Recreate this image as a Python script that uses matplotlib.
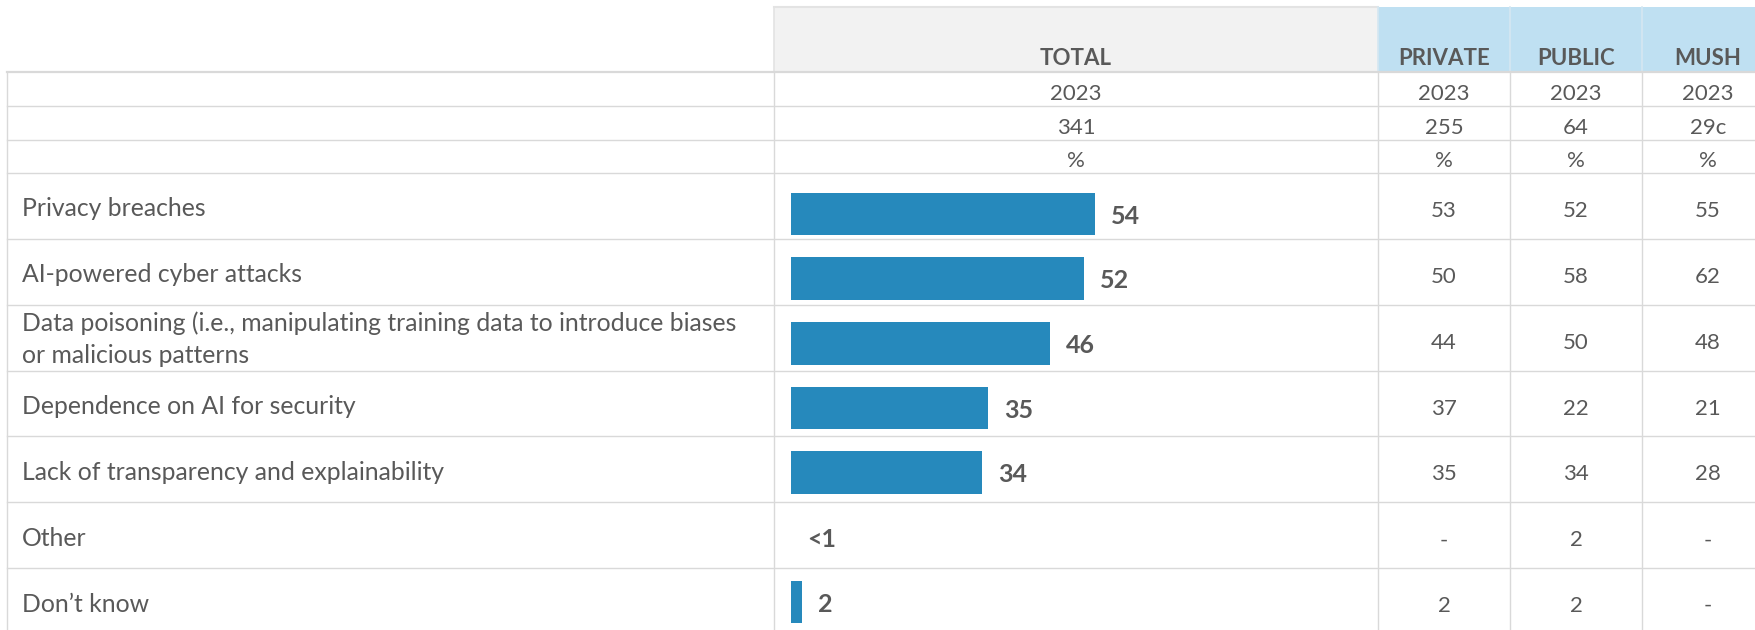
import matplotlib
matplotlib.use("Agg")
import matplotlib.pyplot as plt
from matplotlib.patches import Rectangle

# ---- data -------------------------------------------------------------
categories = [
    "Privacy breaches",
    "AI-powered cyber attacks",
    "Data poisoning (i.e., manipulating training data to introduce biases\nor malicious patterns",
    "Dependence on AI for security",
    "Lack of transparency and explainability",
    "Other",
    "Don\u2019t know",
]
total_values = [54, 52, 46, 35, 34, 0, 2]
total_labels = ["54", "52", "46", "35", "34", "<1", "2"]

segments = ["TOTAL", "PRIVATE", "PUBLIC", "MUSH"]
years = ["2023", "2023", "2023", "2023"]
bases = ["341", "255", "64", "29c"]
units = ["%", "%", "%", "%"]

private_values = [53, 50, 44, 37, 35, None, 2]
public_values = [52, 58, 50, 22, 34, 2, 2]
mush_values = [55, 62, 48, 21, 28, None, None]

# ---- style ------------------------------------------------------------
FONT = "Lato"
TEXT = "#595959"
GRID = "#D9D9D9"
BAR = "#2689BC"
HEAD_GREY = "#F2F2F2"
HEAD_BLUE = "#BFE0F2"

W, H = 1755, 630
fig = plt.figure(figsize=(W / 100, H / 100), dpi=100)
fig.patch.set_facecolor("white")

# canvas axes in pixel units (y downwards) for the table frame and text
cv = fig.add_axes([0, 0, 1, 1])
cv.set_xlim(0, W)
cv.set_ylim(H, 0)
cv.axis("off")

col_edges = [7, 774, 1378, 1510, 1642, 1774]
head_top, head_bot = 7, 72
sub_rows = [72, 106, 139.5, 173]
row_h = 65.85
data_top = sub_rows[-1]
n = len(categories)
row_tops = [data_top + row_h * i for i in range(n)]

# header boxes
cv.add_patch(Rectangle((col_edges[1], head_top), col_edges[2] - col_edges[1],
                       head_bot - head_top, facecolor=HEAD_GREY,
                       edgecolor="none", zorder=1))
cv.plot([col_edges[1], col_edges[2]], [head_top, head_top], color="#E3E3E3", lw=1.5, zorder=2)
for j in range(2, 5):
    cv.add_patch(Rectangle((col_edges[j], head_top), col_edges[j + 1] - col_edges[j],
                           head_bot - head_top, facecolor=HEAD_BLUE,
                           edgecolor="none", zorder=1))
    cv.plot([col_edges[j], col_edges[j]], [head_top, head_bot], color="#D5E7F1",
            lw=1.2, zorder=2)
cv.plot([col_edges[1], col_edges[1]], [head_top, head_bot], color="#E3E3E3", lw=1.2, zorder=2)

# horizontal rules
cv.plot([col_edges[0], col_edges[-1]], [head_bot, head_bot], color=GRID, lw=1.6, zorder=2)
for y in sub_rows[1:] + row_tops[1:]:
    cv.plot([col_edges[0], col_edges[-1]], [y, y], color=GRID, lw=1.0, zorder=2)

# vertical rules
for x in col_edges[:-1]:
    cv.plot([x, x], [head_bot, H + 5], color=GRID, lw=1.0, zorder=2)

# header labels
centers = [(col_edges[j] + col_edges[j + 1]) / 2 for j in range(1, 5)]
for cx, seg in zip(centers, segments):
    cv.text(cx, 65, seg, ha="center", va="baseline", fontsize=16,
            fontweight="bold", color=TEXT, family=FONT, zorder=3)

for r, row in enumerate([years, bases, units]):
    for cx, s in zip(centers, row):
        cv.text(cx, sub_rows[r] + 27.5, s, ha="center", va="baseline",
                fontsize=16, color=TEXT, family=FONT, zorder=3)

# category labels
for top, cat in zip(row_tops, categories):
    lines = cat.split("\n")
    if len(lines) == 1:
        cv.text(22, top + 43.5, cat, ha="left", va="baseline", fontsize=17.8,
                color=TEXT, family=FONT, zorder=3)
    else:
        for k, line in enumerate(lines):
            cv.text(22, top + 26.6 + 31.6 * k, line, ha="left", va="baseline",
                    fontsize=17.8, color=TEXT, family=FONT, zorder=3)

# segment columns
def fmt(v):
    return "-" if v is None else str(v)

for cx, series in zip(centers[1:], [private_values, public_values, mush_values]):
    for top, v in zip(row_tops, series):
        cv.text(cx, top + 44, fmt(v), ha="center", va="baseline", fontsize=16,
                color=TEXT, family=FONT, zorder=3)

# ---- bar chart for the total column ----------------------------------
bar_left_px = 791
px_per_unit = 5.63
x_max = 100
bar_pitch = 64.67
first_center = 214
y_top_px = first_center - bar_pitch / 2
y_bot_px = first_center + bar_pitch * (n - 0.5)

bx = fig.add_axes([bar_left_px / W, (H - y_bot_px) / H,
                   x_max * px_per_unit / W, (y_bot_px - y_top_px) / H])
bx.set_xlim(0, x_max)
bx.set_ylim(n - 0.5, -0.5)
bx.axis("off")
bx.patch.set_alpha(0)

ypos = list(range(n))
bx.barh(ypos, total_values, height=0.657, color=BAR, zorder=3)
for y, v, lab in zip(ypos, total_values, total_labels):
    bx.annotate(lab, xy=(v, y), xytext=(11.5, -7.0), textcoords="offset points",
                ha="left", va="baseline", fontsize=18, fontweight="bold",
                color=TEXT, family=FONT, zorder=4, annotation_clip=False)

fig.savefig("out.png", dpi=100, facecolor="white")
